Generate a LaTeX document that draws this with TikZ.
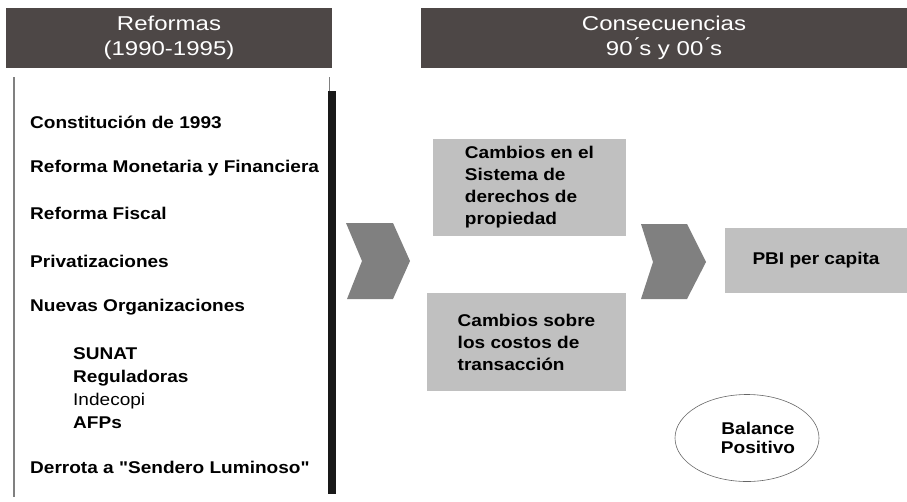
\documentclass[tikz,border=0pt]{standalone}
\usepackage{fontspec}
\setmainfont{Liberation Sans}
\newfontfamily\itemfont[FakeStretch=1.12]{Liberation Sans}
\newfontfamily\headfont[FakeStretch=1.2]{Liberation Sans}
\usetikzlibrary{positioning}
\usetikzlibrary{shapes.geometric}
\definecolor{headgray}{RGB}{77,71,70}
\definecolor{chevgray}{RGB}{128,128,128}
\definecolor{boxgray}{RGB}{192,192,192}

\begin{document}
\begin{tikzpicture}[
            x = 1pt, y = -1pt, % pixel grid, y downwards
            header/.style = {fill = headgray, text = white, align = center,
                inner sep = 0pt, font = \headfont\fontsize{20}{25}\selectfont},
            item/.style = {anchor = west, inner sep = 0pt, align = left,
                font = \itemfont\fontsize{17}{23}\selectfont\bfseries},
            block/.style = {fill = boxgray, align = left, inner sep = 0pt,
                font = \itemfont\fontsize{17}{22}\selectfont\bfseries},
            chevron/.style = {fill = chevgray, draw = none}
            ]

        \useasboundingbox (0,0) rectangle (907,501);

	% headers
        \node[header, minimum width = 326, minimum height = 60] (hdrL) at (169,38)
            {Reformas\\(1990-1995)};
        \node[header, minimum width = 486, minimum height = 60] (hdrR) at (664,38)
            {Consecuencias\\90\'{}s y 00\'{}s};

	% frame of the list
        \draw[gray, line width = 1.5pt] (14,77) -- (14,497);
        \draw[gray, line width = 1pt] (329,77) -- (329,91);
        \fill[black!90] (328,91) rectangle (336,494);

	% reforms
        \node[item] (const) at (30,122) {Constitución de 1993};
        \node[item] (monet) at (30,168) {Reforma Monetaria y Financiera};
        \node[item] (fisc) at (30,213) {Reforma Fiscal};
        \node[item] (priv) at (30,261) {Privatizaciones};
        \node[item] (orgs) at (30,307) {Nuevas Organizaciones};
        \node[item] (subs) at (73,388) {SUNAT\\Reguladoras\\{\mdseries Indecopi}\\AFPs};
        \node[item] (sendero) at (30,467) {Derrota a "Sendero Luminoso"};

	% chevrons
        \fill[chevron] (346,223) -- (393,223) -- (410,261) -- (393,299)
            -- (347,299) -- (362,261) -- cycle;
        \fill[chevron] (641,224) -- (687,224) -- (706,262) -- (687,299)
            -- (641,299) -- (653,262) -- cycle;

	% consequences
        \node[block, minimum width = 193, minimum height = 97] (prop) at (529.5,187.5)
            {Cambios en el\\Sistema de\\derechos de\\propiedad};
        \node[block, minimum width = 199, minimum height = 98] (costs) at (526.5,342)
            {Cambios sobre\\los costos de\\transacción};
        \node[block, align = center, minimum width = 182, minimum height = 65] (pbi)
            at (816,260.5) {PBI per capita};

	% balance
        \node[ellipse, draw = black!60, line width = 0.6pt, minimum width = 144,
            minimum height = 87] (bal) at (747,438) {};
        \node[align = center, inner sep = 0pt,
            font = \itemfont\fontsize{17}{19}\selectfont\bfseries] (baltext)
            at (758,438) {Balance\\Positivo};

  \end{tikzpicture}
\end{document}
